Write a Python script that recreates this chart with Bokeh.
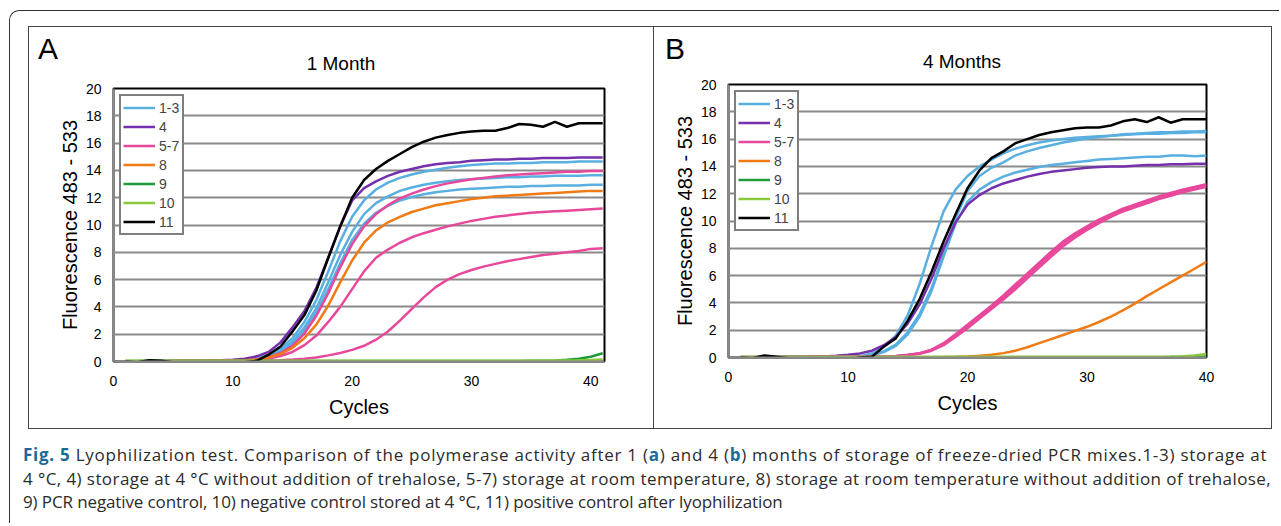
from bokeh.plotting import figure
from bokeh.layouts import column, row
from bokeh.models import Div, Legend, LegendItem, FixedTicker, Spacer
from bokeh.embed import file_html
from bokeh.resources import INLINE

# ---------------- data ----------------
cycles_a = list(range(1, 42))
cycles_b = list(range(1, 41))
y_ticks = [0, 2, 4, 6, 8, 10, 12, 14, 16, 18, 20]
x_ticks = [0, 10, 20, 30, 40]
legend_labels = ["1-3", "4", "5-7", "8", "9", "10", "11"]

# Panel A (1 month)
a_blue1 = [0.02, 0.02, 0.03, 0.03, 0.03, 0.04, 0.05, 0.06, 0.08, 0.10, 0.15, 0.28, 0.50, 0.95, 1.70, 2.90, 4.50, 6.60, 8.80, 10.60, 11.80, 12.60, 13.10, 13.45, 13.70, 13.90, 14.05, 14.20, 14.30, 14.40, 14.45, 14.50, 14.50, 14.55, 14.55, 14.60, 14.60, 14.60, 14.65, 14.65, 14.65]
a_blue2 = [0.02, 0.02, 0.02, 0.03, 0.03, 0.04, 0.04, 0.05, 0.06, 0.08, 0.12, 0.22, 0.42, 0.80, 1.45, 2.50, 3.90, 5.80, 7.80, 9.50, 10.80, 11.60, 12.10, 12.50, 12.75, 12.95, 13.10, 13.20, 13.30, 13.35, 13.40, 13.45, 13.50, 13.50, 13.55, 13.55, 13.60, 13.60, 13.60, 13.65, 13.65]
a_blue3 = [0.02, 0.02, 0.02, 0.02, 0.03, 0.03, 0.04, 0.04, 0.05, 0.07, 0.10, 0.20, 0.38, 0.70, 1.30, 2.30, 3.60, 5.30, 7.20, 8.90, 10.10, 10.90, 11.40, 11.80, 12.05, 12.25, 12.40, 12.50, 12.60, 12.65, 12.70, 12.75, 12.80, 12.80, 12.85, 12.85, 12.90, 12.90, 12.90, 12.95, 12.95]
a_purple = [0.02, 0.02, 0.03, 0.03, 0.04, 0.05, 0.06, 0.07, 0.09, 0.12, 0.20, 0.38, 0.70, 1.40, 2.50, 3.70, 5.40, 7.60, 9.90, 11.80, 12.70, 13.20, 13.60, 13.90, 14.10, 14.30, 14.45, 14.55, 14.60, 14.70, 14.75, 14.80, 14.80, 14.85, 14.85, 14.90, 14.90, 14.90, 14.95, 14.95, 14.95]
a_pink1 = [0.02, 0.02, 0.02, 0.02, 0.03, 0.03, 0.03, 0.04, 0.05, 0.06, 0.08, 0.16, 0.32, 0.62, 1.15, 2.05, 3.35, 5.00, 6.90, 8.60, 9.90, 10.80, 11.45, 11.95, 12.30, 12.60, 12.85, 13.05, 13.20, 13.35, 13.45, 13.55, 13.65, 13.70, 13.75, 13.80, 13.85, 13.90, 13.90, 13.95, 13.95]
a_pink2 = [0.02, 0.02, 0.02, 0.02, 0.02, 0.03, 0.03, 0.03, 0.04, 0.05, 0.06, 0.12, 0.22, 0.40, 0.70, 1.20, 1.90, 2.90, 4.00, 5.30, 6.60, 7.60, 8.20, 8.70, 9.10, 9.40, 9.65, 9.90, 10.10, 10.30, 10.45, 10.60, 10.70, 10.80, 10.90, 10.95, 11.00, 11.05, 11.10, 11.15, 11.20]
a_pink3 = [0.02, 0.02, 0.02, 0.02, 0.02, 0.02, 0.02, 0.03, 0.03, 0.03, 0.04, 0.05, 0.07, 0.10, 0.14, 0.20, 0.30, 0.45, 0.62, 0.85, 1.15, 1.60, 2.20, 3.00, 3.85, 4.70, 5.45, 6.00, 6.40, 6.70, 6.95, 7.15, 7.35, 7.50, 7.65, 7.80, 7.90, 8.00, 8.10, 8.25, 8.30]
a_orange = [0.02, 0.02, 0.02, 0.02, 0.03, 0.03, 0.03, 0.04, 0.05, 0.06, 0.08, 0.15, 0.30, 0.55, 1.00, 1.70, 2.70, 4.10, 5.80, 7.40, 8.70, 9.60, 10.20, 10.60, 10.95, 11.20, 11.45, 11.60, 11.75, 11.90, 12.00, 12.10, 12.15, 12.20, 12.25, 12.30, 12.35, 12.40, 12.45, 12.50, 12.50]
a_green = [0.04, 0.04, 0.04, 0.04, 0.04, 0.04, 0.04, 0.04, 0.04, 0.04, 0.04, 0.04, 0.04, 0.04, 0.04, 0.04, 0.04, 0.04, 0.04, 0.04, 0.04, 0.04, 0.04, 0.04, 0.04, 0.04, 0.04, 0.04, 0.04, 0.04, 0.04, 0.04, 0.04, 0.04, 0.05, 0.06, 0.08, 0.12, 0.20, 0.35, 0.60]
a_lgreen = [0.06, 0.06, 0.06, 0.06, 0.06, 0.06, 0.06, 0.06, 0.06, 0.06, 0.06, 0.06, 0.06, 0.06, 0.06, 0.06, 0.06, 0.06, 0.06, 0.06, 0.06, 0.06, 0.06, 0.06, 0.06, 0.06, 0.06, 0.06, 0.06, 0.06, 0.06, 0.06, 0.06, 0.06, 0.06, 0.06, 0.07, 0.08, 0.09, 0.11, 0.15]
a_black = [0.00, -0.05, 0.10, 0.05, -0.05, -0.08, -0.05, -0.10, -0.05, -0.15, -0.05, 0.05, 0.50, 1.10, 2.20, 3.40, 5.20, 7.60, 9.90, 12.00, 13.30, 14.10, 14.70, 15.20, 15.70, 16.10, 16.40, 16.60, 16.75, 16.85, 16.90, 16.90, 17.10, 17.40, 17.35, 17.20, 17.55, 17.20, 17.45, 17.45, 17.45]

# Panel B (4 months)
b_blue1 = [0.02, 0.02, 0.03, 0.03, 0.03, 0.04, 0.05, 0.06, 0.07, 0.08, 0.10, 0.30, 0.75, 1.60, 3.10, 5.40, 8.20, 10.70, 12.30, 13.30, 14.00, 14.50, 14.95, 15.30, 15.55, 15.75, 15.90, 16.00, 16.10, 16.15, 16.20, 16.25, 16.30, 16.35, 16.40, 16.40, 16.45, 16.45, 16.50, 16.50]
b_blue2 = [0.02, 0.02, 0.02, 0.03, 0.03, 0.03, 0.04, 0.05, 0.06, 0.07, 0.09, 0.20, 0.45, 0.95, 1.85, 3.20, 5.10, 7.60, 10.20, 12.20, 13.30, 13.90, 14.30, 14.80, 15.10, 15.35, 15.55, 15.75, 15.90, 16.05, 16.15, 16.25, 16.35, 16.40, 16.45, 16.50, 16.50, 16.55, 16.55, 16.60]
b_blue3 = [0.02, 0.02, 0.02, 0.02, 0.03, 0.03, 0.04, 0.04, 0.05, 0.06, 0.08, 0.15, 0.40, 0.85, 1.70, 3.00, 4.90, 7.40, 9.80, 11.40, 12.30, 12.85, 13.25, 13.55, 13.75, 13.95, 14.10, 14.20, 14.30, 14.40, 14.50, 14.55, 14.60, 14.65, 14.70, 14.70, 14.80, 14.80, 14.75, 14.80]
b_purple = [0.03, 0.03, 0.04, 0.04, 0.05, 0.06, 0.07, 0.08, 0.12, 0.20, 0.30, 0.50, 0.90, 1.50, 2.50, 3.90, 5.80, 8.00, 9.90, 11.20, 11.90, 12.40, 12.75, 13.00, 13.25, 13.45, 13.60, 13.70, 13.80, 13.90, 13.95, 14.00, 14.00, 14.05, 14.10, 14.10, 14.15, 14.15, 14.20, 14.20]
b_pink1 = [0.02, 0.02, 0.02, 0.02, 0.03, 0.03, 0.03, 0.04, 0.04, 0.05, 0.05, 0.06, 0.07, 0.10, 0.18, 0.30, 0.55, 1.00, 1.60, 2.30, 3.00, 3.70, 4.40, 5.20, 6.00, 6.80, 7.60, 8.35, 9.00, 9.50, 10.00, 10.45, 10.85, 11.15, 11.45, 11.75, 12.00, 12.25, 12.45, 12.65]
b_pink2 = [0.02, 0.02, 0.02, 0.02, 0.02, 0.03, 0.03, 0.03, 0.04, 0.04, 0.05, 0.05, 0.06, 0.09, 0.16, 0.28, 0.50, 0.90, 1.50, 2.15, 2.85, 3.55, 4.25, 5.00, 5.80, 6.60, 7.40, 8.15, 8.80, 9.35, 9.85, 10.30, 10.70, 11.00, 11.30, 11.60, 11.85, 12.10, 12.30, 12.50]
b_pink3 = [0.02, 0.02, 0.02, 0.03, 0.03, 0.03, 0.04, 0.04, 0.05, 0.05, 0.06, 0.06, 0.08, 0.11, 0.20, 0.32, 0.58, 1.05, 1.70, 2.40, 3.10, 3.80, 4.55, 5.35, 6.15, 6.95, 7.75, 8.50, 9.10, 9.60, 10.10, 10.50, 10.90, 11.20, 11.50, 11.80, 12.05, 12.30, 12.50, 12.70]
b_orange = [0.02, 0.02, 0.02, 0.02, 0.02, 0.02, 0.02, 0.02, 0.02, 0.02, 0.02, 0.02, 0.02, 0.02, 0.02, 0.02, 0.02, 0.03, 0.05, 0.08, 0.12, 0.20, 0.32, 0.50, 0.75, 1.05, 1.35, 1.65, 1.95, 2.25, 2.60, 3.00, 3.45, 3.95, 4.50, 5.00, 5.50, 6.00, 6.50, 7.00]
b_green = [0.02, 0.02, 0.02, 0.02, 0.02, 0.02, 0.02, 0.02, 0.02, 0.02, 0.02, 0.02, 0.02, 0.02, 0.02, 0.02, 0.02, 0.02, 0.02, 0.02, 0.02, 0.02, 0.02, 0.02, 0.02, 0.02, 0.02, 0.02, 0.02, 0.02, 0.02, 0.02, 0.02, 0.02, 0.02, 0.02, 0.03, 0.03, 0.04, 0.05]
b_lgreen = [0.05, 0.05, 0.05, 0.05, 0.05, 0.05, 0.05, 0.05, 0.05, 0.05, 0.05, 0.05, 0.05, 0.05, 0.05, 0.05, 0.05, 0.05, 0.05, 0.05, 0.05, 0.05, 0.05, 0.05, 0.05, 0.05, 0.05, 0.05, 0.05, 0.05, 0.05, 0.05, 0.05, 0.05, 0.05, 0.06, 0.07, 0.10, 0.15, 0.25]
b_black = [0.00, -0.05, 0.15, 0.05, -0.05, -0.08, -0.05, -0.10, -0.05, -0.15, 0.00, 0.05, 0.80, 1.40, 2.70, 4.30, 6.30, 8.50, 10.50, 12.40, 13.70, 14.60, 15.10, 15.70, 16.00, 16.30, 16.50, 16.65, 16.80, 16.85, 16.85, 17.00, 17.30, 17.45, 17.25, 17.60, 17.20, 17.45, 17.45, 17.45]

# ---------------- styles ----------------
C_BLUE = "#58afe0"
C_PURPLE = "#7430ad"
C_PINK = "#e8489c"
C_ORANGE = "#f07a14"
C_GREEN = "#1e9a3a"
C_LGREEN = "#8cc83c"
C_BLACK = "#000000"
FONT = "Liberation Sans"
HEAD_H = 47
FIG_H = 354


def make_head(title, letter, width, title_x, title_top, letter_x):
    html = ('<div style="position:relative;width:%dpx;height:%dpx;font-family:\'Liberation Sans\';'
            'color:black;white-space:nowrap">'
            '<span style="position:absolute;left:%dpx;top:7px;font-size:30px;line-height:30px">%s</span>'
            '<span style="position:absolute;left:%dpx;top:%dpx;font-size:19px;line-height:19px;'
            'transform:translateX(-50%%)">%s</span></div>') % (width, HEAD_H, letter_x, letter,
                                                                  title_x, title_top, title)
    return Div(text=html, width=width, height=HEAD_H, margin=0)


def make_panel(cycles, series, x_end, width, borders):
    bl, br, bt, bb = borders
    p = figure(width=width, height=FIG_H, x_range=(0, x_end), y_range=(0, 20),
               output_backend="svg", toolbar_location=None, title_location=None,
               min_border_left=bl, min_border_right=br, min_border_top=bt, min_border_bottom=bb)
    p.background_fill_color = "white"
    p.border_fill_color = "white"
    p.outline_line_color = "black"
    p.outline_line_width = 2

    p.xgrid.grid_line_color = None
    p.ygrid.grid_line_color = "#8a8a8a"
    p.ygrid.grid_line_width = 2
    p.yaxis.ticker = FixedTicker(ticks=y_ticks)
    p.xaxis.ticker = FixedTicker(ticks=x_ticks)
    for ax in (p.xaxis[0], p.yaxis[0]):
        ax.axis_line_color = "#8a8a8a"
        ax.axis_line_width = 2
        ax.major_tick_line_color = None
        ax.minor_tick_line_color = None
        ax.major_tick_out = 0
        ax.major_tick_in = 0
        ax.minor_tick_out = 0
        ax.major_label_text_font = FONT
        ax.major_label_text_font_size = "14px"
        ax.major_label_text_color = "black"
        ax.major_label_text_line_height = 1.0
        ax.axis_label_text_font = FONT
        ax.axis_label_text_font_size = "20px"
        ax.axis_label_text_font_style = "normal"
        ax.axis_label_text_color = "black"
        ax.axis_label_text_line_height = 1.0
    p.yaxis.major_label_standoff = 12
    p.yaxis.axis_label = "Fluorescence 483 - 533"
    p.yaxis.axis_label_standoff = 2
    p.xaxis.major_label_standoff = 14
    p.xaxis.axis_label = "Cycles"
    p.xaxis.axis_label_standoff = 7

    groups = {}
    for key, ys, color in series:
        r = p.line(cycles, ys, line_color=color, line_width=2.5)
        groups.setdefault(key, r)
    items = [LegendItem(label=lab, renderers=[groups[lab]]) for lab in legend_labels]
    leg = Legend(items=items, location="top_left", margin=6, padding=2, spacing=0,
                 label_height=19, glyph_height=19, glyph_width=32, label_standoff=4,
                 label_width=21,
                 border_line_color="black", border_line_width=2,
                 background_fill_color="white", background_fill_alpha=1.0,
                 label_text_font=FONT, label_text_font_size="14px")
    p.add_layout(leg)
    return p


series_a = [("1-3", a_blue1, C_BLUE), ("1-3", a_blue2, C_BLUE), ("1-3", a_blue3, C_BLUE),
            ("4", a_purple, C_PURPLE),
            ("5-7", a_pink1, C_PINK), ("5-7", a_pink2, C_PINK), ("5-7", a_pink3, C_PINK),
            ("8", a_orange, C_ORANGE), ("9", a_green, C_GREEN), ("10", a_lgreen, C_LGREEN),
            ("11", a_black, C_BLACK)]
series_b = [("1-3", b_blue1, C_BLUE), ("1-3", b_blue2, C_BLUE), ("1-3", b_blue3, C_BLUE),
            ("4", b_purple, C_PURPLE),
            ("5-7", b_pink1, C_PINK), ("5-7", b_pink2, C_PINK), ("5-7", b_pink3, C_PINK),
            ("8", b_orange, C_ORANGE), ("9", b_green, C_GREEN), ("10", b_lgreen, C_LGREEN),
            ("11", b_black, C_BLACK)]

headA = make_head("1 Month", "A", 624, 312, 27, 9)
headB = make_head("4 Months", "B", 617, 308, 25, 11)
figA = make_panel(cycles_a, series_a, 41.15, 624, (84, 49, 14, 67))
figB = make_panel(cycles_b, series_b, 40, 617, (74, 65, 10, 71))
colA = column(headA, figA, styles={"border-right": "1.3px solid #444", "background": "white"})
colB = column(headB, figB, styles={"background": "white"})

panels = row(colA, colB, styles={"border": "1.3px solid #444", "background": "white"})

blue = "#1c6b97"
line1 = (f'<b style="color:{blue}">Fig. 5</b> Lyophilization test. Comparison of the polymerase activity after 1 '
         f'(<b style="color:{blue}">a</b>) and 4 (<b style="color:{blue}">b</b>) months of storage of freeze-dried PCR '
         'mixes.1-3) storage at')
line2 = ('4 °C, 4) storage at 4 °C without addition of trehalose, 5-7) storage at room temperature, '
         '8) storage at room temperature without addition of trehalose,')
line3 = '9) PCR negative control, 10) negative control stored at 4 °C, 11) positive control after lyophilization'
cap_html = ('<div style="font-family:\'Open Sans\';font-size:17px;line-height:23.5px;'
            'color:#2b2b2b;white-space:nowrap;padding-top:9px">'
            f'<div style="letter-spacing:0.74px">{line1}</div>'
            f'<div style="letter-spacing:0.42px">{line2}</div>'
            f'<div style="letter-spacing:-0.12px">{line3}</div></div>')
caption = Div(text=cap_html, width=1258, height=84)

box = column(Spacer(height=15), row(Spacer(width=18), panels), row(Spacer(width=8), caption),
             width=1270,
             styles={"border-top": "1.5px solid #333", "border-left": "1.5px solid #333",
                     "border-top-left-radius": "10px"})
root = column(Spacer(height=10), row(Spacer(width=9), box))

open("out.html", "w").write(file_html(root, INLINE))
